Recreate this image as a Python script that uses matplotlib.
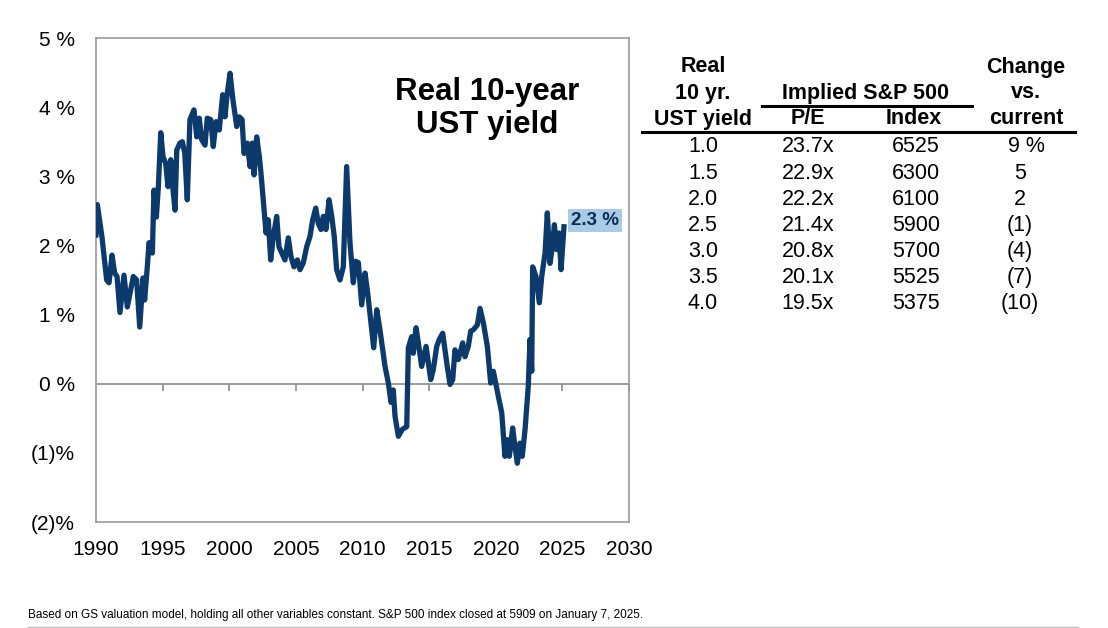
import matplotlib.pyplot as plt
from matplotlib.lines import Line2D

plt.rcParams['font.family'] = ['Liberation Sans', 'DejaVu Sans']

# real 10-year UST yield (year, %)
years = [1990.00, 1990.10, 1990.45, 1990.80, 1990.98, 1991.20, 1991.40, 1991.58, 1991.80,
         1992.10, 1992.35, 1992.80, 1993.05, 1993.28, 1993.53, 1993.65, 1993.85, 1993.98,
         1994.23, 1994.35, 1994.53, 1994.68, 1994.86, 1995.03, 1995.23, 1995.40, 1995.61,
         1995.78, 1995.93, 1996.06, 1996.30, 1996.48, 1996.66, 1996.85, 1997.05, 1997.35,
         1997.56, 1997.75, 1997.93, 1998.18, 1998.35, 1998.61, 1998.80, 1999.01, 1999.25,
         1999.51, 1999.68, 1999.85, 2000.06, 2000.26, 2000.56, 2000.75, 2000.96, 2001.11,
         2001.35, 2001.56, 2001.73, 2001.86, 2002.06, 2002.26, 2002.38, 2002.76, 2002.93,
         2003.11, 2003.31, 2003.56, 2003.73, 2004.18, 2004.43, 2004.63, 2004.86, 2005.11,
         2005.31, 2005.56, 2005.81, 2006.06, 2006.26, 2006.49, 2006.68, 2006.89, 2007.06,
         2007.26, 2007.49, 2007.69, 2007.88, 2008.06, 2008.31, 2008.56, 2008.81, 2009.06,
         2009.31, 2009.49, 2009.69, 2009.94, 2010.19, 2010.39, 2010.84, 2011.07, 2011.31,
         2011.69, 2011.94, 2012.14, 2012.31, 2012.44, 2012.69, 2012.99, 2013.32, 2013.44,
         2013.69, 2013.81, 2014.02, 2014.19, 2014.44, 2014.77, 2015.12, 2015.31, 2015.57,
         2015.76, 2016.02, 2016.36, 2016.57, 2016.77, 2016.94, 2017.19, 2017.52, 2017.69,
         2017.94, 2018.12, 2018.32, 2018.62, 2018.82, 2019.07, 2019.37, 2019.62, 2019.82,
         2020.19, 2020.45, 2020.69, 2020.87, 2021.02, 2021.27, 2021.44, 2021.62, 2021.82,
         2021.99, 2022.20, 2022.44, 2022.57, 2022.70, 2022.77, 2023.02, 2023.27, 2023.45,
         2023.70, 2023.87, 2024.07, 2024.25, 2024.40, 2024.57, 2024.75, 2024.90, 2025.12]
yields = [2.15, 2.59, 2.12, 1.50, 1.46, 1.86, 1.60, 1.55, 1.03,
          1.57, 1.11, 1.55, 1.50, 0.82, 1.53, 1.21, 1.69, 2.04,
          1.89, 2.80, 2.41, 2.85, 3.63, 3.28, 3.19, 2.85, 3.24,
          2.80, 2.51, 3.38, 3.48, 3.50, 3.34, 2.66, 3.82, 3.96,
          3.57, 3.84, 3.53, 3.45, 3.84, 3.82, 3.43, 3.79, 3.67,
          4.18, 3.86, 4.20, 4.49, 4.13, 3.72, 3.86, 3.82, 3.33,
          3.48, 3.14, 3.48, 3.02, 3.57, 3.28, 3.05, 2.18, 2.37,
          1.79, 2.13, 2.42, 1.98, 1.79, 2.11, 1.84, 1.69, 1.79,
          1.65, 1.75, 1.98, 2.13, 2.37, 2.54, 2.32, 2.23, 2.42,
          2.23, 2.66, 2.42, 2.13, 1.65, 1.50, 1.69, 3.14, 2.04,
          1.46, 1.77, 1.75, 1.14, 1.60, 1.31, 0.52, 1.07, 0.78,
          0.25, 0.01, -0.27, -0.09, -0.47, -0.76, -0.66, -0.62, 0.52,
          0.68, 0.44, 0.81, 0.59, 0.25, 0.54, 0.06, 0.20, 0.54,
          0.64, 0.73, 0.25, -0.01, 0.06, 0.49, 0.35, 0.59, 0.39,
          0.54, 0.76, 0.78, 0.85, 1.09, 0.88, 0.54, 0.01, 0.18,
          -0.18, -0.42, -1.05, -0.81, -1.05, -0.64, -0.91, -1.15, -0.86,
          -1.05, -0.66, -0.04, 0.64, 0.18, 1.69, 1.55, 1.17, 1.55,
          1.89, 2.47, 1.74, 1.98, 2.30, 1.94, 2.18, 1.65, 2.27]

current_label = "2.3 %"

# table
ust_yield = ["1.0", "1.5", "2.0", "2.5", "3.0", "3.5", "4.0"]
pe = ["23.7x", "22.9x", "22.2x", "21.4x", "20.8x", "20.1x", "19.5x"]
index_lvl = ["6525", "6300", "6100", "5900", "5700", "5525", "5375"]
change = ["9 %", "5", "2", "(1)", "(4)", "(7)", "(10)"]

x_ticks = list(range(1990, 2031, 5))
y_ticks = [-2, -1, 0, 1, 2, 3, 4, 5]
y_labels = ["(2)%", "(1)%", "0 %", "1 %", "2 %", "3 %", "4 %", "5 %"]

navy = "#0c3a6c"
W, H = 1108, 628


def fx(x):
    return x / W


def fy(y):
    return 1 - y / H


fig = plt.figure(figsize=(11.08, 6.28), dpi=100)
ax = fig.add_axes([fx(96), fy(522), fx(629) - fx(96), fy(38) - fy(522)])

ax.plot(years, yields, color=navy, lw=3.8, solid_joinstyle='round', zorder=3)
ax.axhline(0, color="#8c8c8c", lw=1.2, zorder=1)
ax.plot(x_ticks[1:], [0] * (len(x_ticks) - 1), ls='none', marker=3, ms=5,
        mew=1.2, color="#8c8c8c", zorder=1)

ax.set_xlim(1990, 2030)
ax.set_ylim(-2, 5)
ax.set_xticks(x_ticks)
ax.set_yticks(y_ticks)
ax.set_yticklabels(y_labels)
ax.tick_params(axis='both', length=0, labelsize=15, colors='black')
ax.tick_params(axis='y', pad=15)
ax.tick_params(axis='x', pad=13)
for s in ax.spines.values():
    s.set_color("#999999")
    s.set_linewidth(1.2)

ax.text(0.733, 0.92, "Real 10-year\nUST yield", transform=ax.transAxes,
        ha='center', va='top', fontsize=22.5, fontweight='bold', linespacing=1.15)

ax.annotate(current_label, xy=(years[-1], yields[-1]), xytext=(5, 4.5),
            textcoords='offset points', ha='left', va='center',
            fontsize=13.5, fontweight='bold', color="#0b2c55",
            bbox=dict(boxstyle='square,pad=0.15', fc="#a9cbe6", ec='none'))

# table on the right
hdr = dict(ha='center', va='center', fontsize=15.5, fontweight='bold')
fig.text(fx(703), fy(67), "Real", **hdr)
fig.text(fx(703), fy(93), "10 yr.", **hdr)
fig.text(fx(703), fy(119), "UST yield", **hdr)
fig.text(fx(866), fy(93), "Implied S&P 500", **hdr)
fig.text(fx(808), fy(119), "P/E", **hdr)
fig.text(fx(914), fy(119), "Index", **hdr)
fig.text(fx(1026), fy(67), "Change", **hdr)
fig.text(fx(1026), fy(93), "vs.", **hdr)
fig.text(fx(1026), fy(119), "current", **hdr)
fig.add_artist(Line2D([fx(762), fx(972)], [fy(106), fy(106)], color='black', lw=2.2))
fig.add_artist(Line2D([fx(642), fx(1075)], [fy(132), fy(132)], color='black', lw=2.2))

cell = dict(ha='center', va='center', fontsize=15.5)
for i in range(len(ust_yield)):
    yy = fy(147 + i * 26.1)
    fig.text(fx(703), yy, ust_yield[i], **cell)
    fig.text(fx(808), yy, pe[i], **cell)
    fig.text(fx(916), yy, index_lvl[i], **cell)
    if i == 0:
        fig.text(fx(1008), yy, change[i], ha='left', va='center', fontsize=15.5)
    else:
        fig.text(fx(1020), yy, change[i], **cell)

fig.text(fx(28), fy(615), "Based on GS valuation model, holding all other variables constant. "
         "S&P 500 index closed at 5909 on January 7, 2025.", fontsize=8.5, va='center')
fig.add_artist(Line2D([fx(28), fx(1078)], [fy(627), fy(627)], color="#bbbbbb", lw=1))

fig.savefig("out.png", dpi=100)
